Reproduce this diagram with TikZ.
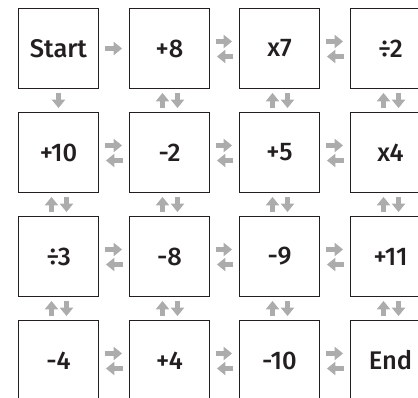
\documentclass[tikz,border=0pt]{standalone}
\usepackage{fontspec}
\newfontfamily\boxfont{Fira Sans}[UprightFont=* Medium]
\usetikzlibrary{arrows.meta}
\definecolor{boxline}{RGB}{35,31,32}
\definecolor{arrowgray}{RGB}{172,172,172}
\tikzset{
  cell/.style={draw=boxline, line width=1.8pt, minimum width=80pt, minimum height=80pt, inner sep=0pt, font=\boxfont\fontsize{25.5}{26}\selectfont, text=boxline},
  garrow/.style={draw=arrowgray, line width=5pt, -{Triangle[length=8.5pt,width=13pt]}},
}
\begin{document}
\begin{tikzpicture}[x=1pt,y=-1pt]
\useasboundingbox (0,0) rectangle (418,398);
\clip (0,0) rectangle (418,398);
% columns x: 58.5 169.5 279.5 390.5 ; rows y: 48.5 152.5 256.5 360.5
\node[cell] (a1) at (58.5,48.5) {Start};
\node[cell] (a2) at (169.5,48.5) {+8};
\node[cell] (a3) at (279.5,48.5) {x7};
\node[cell] (a4) at (390.5,48.5) {÷2};
\node[cell] (b1) at (58.5,152.5) {+10};
\node[cell] (b2) at (169.5,152.5) {-2};
\node[cell] (b3) at (279.5,152.5) {+5};
\node[cell] (b4) at (390.5,152.5) {x4};
\node[cell] (c1) at (58.5,256.5) {÷3};
\node[cell] (c2) at (169.5,256.5) {-8};
\node[cell] (c3) at (279.5,256.5) {-9};
\node[cell] (c4) at (390.5,256.5) {+11};
\node[cell] (d1) at (58.5,360.5) {-4};
\node[cell] (d2) at (169.5,360.5) {+4};
\node[cell] (d3) at (279.5,360.5) {-10};
\node[cell] (d4) at (390.5,360.5) {End};
% single arrows from Start
\draw[garrow] ([xshift=5.5pt]a1.east) -- ([xshift=-6.5pt]a2.west);
\draw[garrow] ([yshift=-3.5pt]a1.south) -- ([yshift=3.5pt]b1.north);
% horizontal double arrows
\foreach \p/\q in {a2/a3,a3/a4,b1/b2,b2/b3,b3/b4,c1/c2,c2/c3,c3/c4,d1/d2,d2/d3,d3/d4}{
  \draw[garrow] ([shift={(5.5pt,7pt)}]\p.east) -- ([shift={(-6.5pt,7pt)}]\q.west);
  \draw[garrow] ([shift={(-5.5pt,-8pt)}]\q.west) -- ([shift={(6.5pt,-8pt)}]\p.east);
}
% vertical double arrows
\foreach \u/\v in {a2/b2,a3/b3,a4/b4,b1/c1,b2/c2,b3/c3,b4/c4,c1/d1,c2/d2,c3/d3,c4/d4}{
  \draw[garrow] ([shift={(-7pt,3.5pt)}]\v.north) -- ([shift={(-7pt,-3.5pt)}]\u.south);
  \draw[garrow] ([shift={(8pt,-3.5pt)}]\u.south) -- ([shift={(8pt,3.5pt)}]\v.north);
}
\end{tikzpicture}
\end{document}
